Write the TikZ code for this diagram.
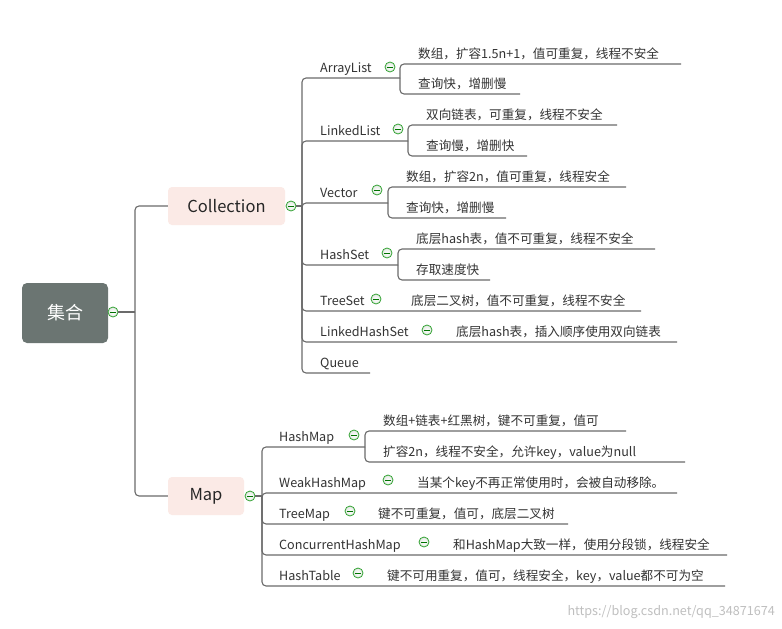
\documentclass[tikz,border=0pt]{standalone}
\usepackage{fontspec}
\setmainfont{Noto Sans CJK SC}
\definecolor{rootc}{HTML}{6B7572}
\definecolor{topc}{HTML}{FBEAE6}
\begin{document}
\begin{tikzpicture}[x=1pt,y=-1pt,
 br/.style={draw=black!58,line width=1.1pt,rounded corners=4pt},
 lbl/.style={inner sep=0pt,font=\fontsize{12.6}{14}\selectfont,text=black!80},
 tp/.style={rounded corners=4pt,fill=topc,font=\fontsize{16.5}{18}\selectfont,text=black!85},
 ic/.style={circle,inner sep=0pt,minimum size=10pt,draw=green!55!black!80,line width=0.8pt,inner color=white,outer color=green!10!gray!20}]
\newcommand\mmleaf[7]{\draw[br] (#2,#3) |- (#6,#4); \node[lbl,anchor=base west] (#1) at (#5,{#4-6}) {#7};}
\newcommand\mmicon[3]{\node[ic] (#1) at (#2,#3) {}; \draw[green!45!black,line width=0.9pt] ({#2-3},#3) -- ({#2+3},#3);}
\useasboundingbox (0,0) rectangle (782,629);
\fill[white] (0,0) rectangle (782,629);
% root
\node[rounded corners=5pt,fill=rootc,minimum width=86pt,minimum height=60pt,text=white,font=\fontsize{18}{20}\selectfont] (root) at (65,313) {集合};
\mmicon{iroot}{113}{312}
\draw[br] (iroot.east) -- (135,312);
\node[tp,minimum width=117pt,minimum height=38pt] (coll) at (226.5,206) {Collection};
\node[tp,minimum width=76pt,minimum height=38pt] (map) at (206,496) {Map};
\draw[br] (135,312) |- (coll.west);
\draw[br] (135,312) |- (map.west);
\mmicon{icoll}{291}{206}
\mmicon{imap}{250}{496}
\draw[br] (icoll.east) -- (302,206);
\draw[br] (imap.east) -- (262,496);
% Collection children
\mmleaf{al}{302}{206}{78}{320}{400}{ArrayList}
\mmicon{ial}{390}{67}
\mmleaf{al1}{400}{78}{64}{418}{681}{数组，扩容1.5n+1，值可重复，线程不安全}
\mmleaf{al2}{400}{78}{94}{418}{520}{查询快，增删慢}
\mmleaf{ll}{302}{206}{141}{320}{408}{LinkedList}
\mmicon{ill}{398}{129}
\mmleaf{ll1}{408}{141}{125}{426}{617}{双向链表，可重复，线程不安全}
\mmleaf{ll2}{408}{141}{156}{426}{527}{查询慢，增删快}
\mmleaf{ve}{302}{206}{203}{320}{388}{Vector}
\mmicon{ive}{377}{190}
\mmleaf{ve1}{388}{203}{187}{406}{626}{数组，扩容2n，值可重复，线程安全}
\mmleaf{ve2}{388}{203}{218}{406}{506}{查询快，增删慢}
\mmleaf{hs}{302}{206}{265}{320}{398}{HashSet}
\mmicon{ihs}{387}{253}
\mmleaf{hs1}{398}{265}{249}{416}{655}{底层hash表，值不可重复，线程不安全}
\mmleaf{hs2}{398}{265}{280}{416}{490}{存取速度快}
\mmleaf{ts}{302}{206}{311}{320}{641}{TreeSet}
\mmicon{its}{376}{299}
\node[lbl,anchor=base west] (ts1) at (411,305) {底层二叉树，值不可重复，线程不安全};
\mmleaf{lhs}{302}{206}{342}{320}{677}{LinkedHashSet}
\mmicon{ilhs}{427}{330}
\node[lbl,anchor=base west] (lhs1) at (456,336) {底层hash表，插入顺序使用双向链表};
\mmleaf{qu}{302}{206}{373}{320}{370}{Queue}
% Map children
\mmleaf{hm}{262}{496}{447}{279}{365}{HashMap}
\mmicon{ihm}{354}{435}
\mmleaf{hm1}{365}{447}{431}{383}{626}{数组+链表+红黑树，键不可重复，值可}
\mmleaf{hm2}{365}{447}{462}{383}{685}{扩容2n，线程不安全，允许key，value为null}
\mmleaf{whm}{262}{496}{493}{279}{677}{WeakHashMap}
\mmicon{iwhm}{388}{480}
\node[lbl,anchor=base west] (whm1) at (417,487) {当某个key不再正常使用时，会被自动移除。};
\mmleaf{tm}{262}{496}{524}{279}{568}{TreeMap}
\mmicon{itm}{350}{511}
\node[lbl,anchor=base west] (tm1) at (378,518) {键不可重复，值可，底层二叉树};
\mmleaf{chm}{262}{496}{555}{279}{727}{ConcurrentHashMap}
\mmicon{ichm}{424}{542}
\node[lbl,anchor=base west] (chm1) at (453,549) {和HashMap大致一样，使用分段锁，线程安全};
\mmleaf{ht}{262}{496}{586}{279}{725}{HashTable}
\mmicon{iht}{358}{573}
\node[lbl,anchor=base west] (ht1) at (387,580) {键不可用重复，值可，线程安全，key，value都不可为空};
\node[anchor=base east,inner sep=0pt,text=black!25,font=\fontsize{12.6}{14}\selectfont] (wm) at (775,615) {https://blog.csdn.net/qq\_34871674};
\end{tikzpicture}
\end{document}
